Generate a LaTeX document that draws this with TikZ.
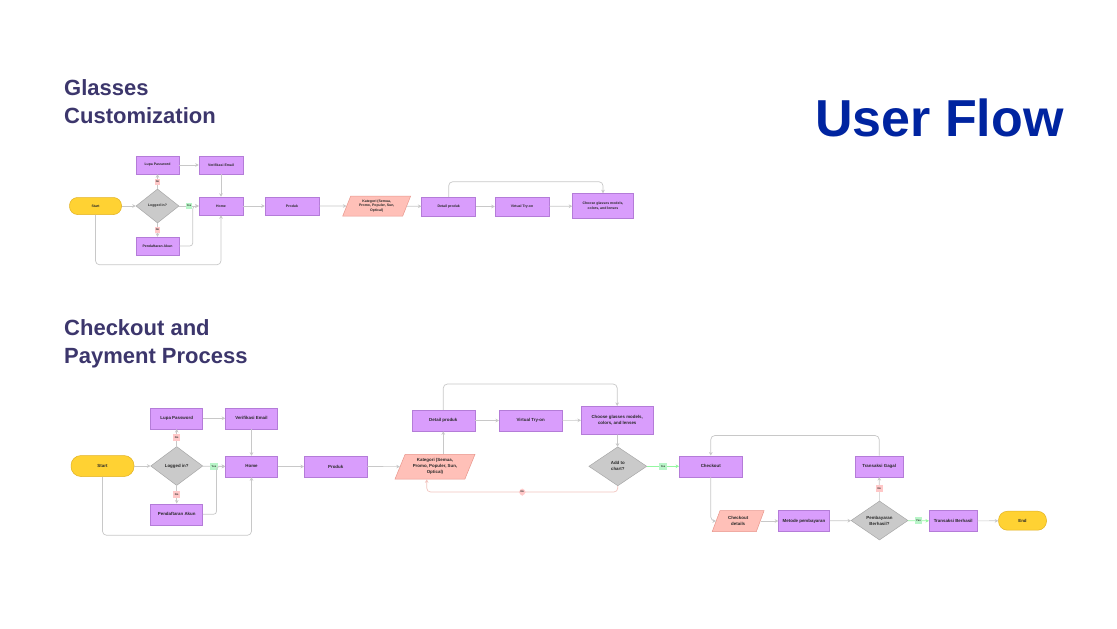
\documentclass[tikz,border=0pt]{standalone}
\usepackage{fontspec}
\setmainfont{Liberation Sans}
\usetikzlibrary{shapes.geometric,arrows.meta}

\definecolor{procfill}{RGB}{217,157,252}
\definecolor{procline}{RGB}{180,124,216}
\definecolor{termfill}{RGB}{255,210,51}
\definecolor{termline}{RGB}{226,178,34}
\definecolor{decfill}{RGB}{202,202,202}
\definecolor{decline}{RGB}{168,168,168}
\definecolor{iofill}{RGB}{255,192,184}
\definecolor{ioline}{RGB}{232,150,140}
\definecolor{linegray}{RGB}{200,200,200}
\definecolor{nofill}{RGB}{255,200,200}
\definecolor{yesfill}{RGB}{184,245,200}
\definecolor{titlecol}{RGB}{60,54,108}
\definecolor{bigtitle}{RGB}{0,36,160}
\definecolor{txt}{RGB}{40,40,40}

\tikzset{
  proc/.style={draw=procline, fill=procfill, line width=0.5pt, text=txt, align=center, inner sep=1pt},
  term/.style={draw=termline, fill=termfill, line width=0.5pt, text=txt, rounded corners=8pt, inner sep=1pt},
  dec/.style={diamond, draw=decline, fill=decfill, line width=0.5pt, text=txt, align=center, inner sep=0pt},
  io/.style={trapezium, trapezium left angle=65, trapezium right angle=115, trapezium stretches=true,
    draw=ioline, fill=iofill, line width=0.5pt, text=txt, align=center, inner sep=0pt},
  fa/.style={font=\fontsize{3.5}{4.2}\selectfont\bfseries},
  fb/.style={font=\fontsize{4.4}{6}\selectfont\bfseries},
  conn/.style={draw=linegray, line width=0.7pt, -{Stealth[length=3.5pt,width=3.6pt]}},
  noline/.style={draw=ioline!55, line width=0.7pt, -{Stealth[length=3.5pt,width=3.6pt]}},
  yesline/.style={draw=yesfill!80!green, line width=0.7pt, -{Stealth[length=3.5pt,width=3.6pt]}},
  nolbl/.style={fill=nofill, text=txt, inner sep=0.5pt, minimum width=6.5, minimum height=7, font=\fontsize{2.6}{3}\selectfont\bfseries},
  yeslbl/.style={fill=yesfill, text=txt, inner sep=0.5pt, minimum width=7.5, minimum height=7, font=\fontsize{2.6}{3}\selectfont\bfseries},
  title/.style={text=titlecol, font=\fontsize{22}{28}\selectfont\bfseries, align=left, inner sep=0pt}
}

\begin{document}
\begin{tikzpicture}[x=1pt,y=-1pt]
\useasboundingbox[fill=white] (0,0) rectangle (1117,629);

% titles
\node[title, anchor=north west] (t1) at (64,79.5) {Glasses\\Customization};
\node[title, anchor=north west] (t2) at (64,319) {Checkout and\\Payment Process};
\node[text=bigtitle, font=\fontsize{52}{60}\selectfont\bfseries, anchor=base west, inner sep=0pt] (t0) at (815,136) {User Flow};

% glasses customization
\node[term, fa, minimum width=52, minimum height=17] (s1) at (95.5,206) {Start};
\node[dec, fa, minimum width=43, minimum height=34] (l1) at (157.5,206) {Logged in?};
\node[proc, fa, minimum width=43, minimum height=18] (lp1) at (157.5,165) {Lupa Password};
\node[proc, fa, minimum width=44, minimum height=18] (v1) at (221,165) {Verifikasi Email};
\node[proc, fa, minimum width=44, minimum height=18] (h1) at (221,206) {Home};
\node[proc, fa, minimum width=43, minimum height=18] (pa1) at (157.5,246) {Pendaftaran Akun};
\node[proc, fa, minimum width=54, minimum height=18] (pr1) at (292,206) {Produk};
\node[io, fa, minimum width=68, minimum height=20] (k1) at (376.7,206) {Kategori (Semua,\\Promo, Populer, Sun,\\Optical)};
\node[proc, fa, minimum width=54, minimum height=19] (d1) at (448.7,206.5) {Detail produk};
\node[proc, fa, minimum width=54, minimum height=19] (vt1) at (522,206.5) {Virtual Try-on};
\node[proc, fa, minimum width=61, minimum height=25] (c1) at (603,206) {Choose glasses models,\\colors, and lenses};

\draw[conn] (s1) -- (l1);
\draw[conn] (l1) -- (lp1) node[midway, nolbl, minimum width=5.5, minimum height=6] {No};
\draw[conn] (l1) -- (pa1) node[midway, nolbl, minimum width=5.5, minimum height=6] {No};
\draw[conn] (l1) -- (h1) node[midway, yeslbl, minimum width=6, minimum height=6] {Yes};
\draw[conn] (lp1) -- (v1);
\draw[conn] (v1) -- (h1);
\draw[conn, rounded corners=3pt] (pa1.east) -| ([xshift=-6]h1.west) -- (h1.west);
\draw[conn, rounded corners=4pt] (s1.south) -- ++(0,50) -| (h1.south);
\draw[conn] (h1) -- (pr1);
\draw[conn] (pr1) -- (k1);
\draw[conn] (k1) -- (d1);
\draw[conn] (d1) -- (vt1);
\draw[conn] (vt1) -- (c1);
\draw[conn, rounded corners=4pt] (d1.north) -- ++(0,-15) -| (c1.north);

% checkout and payment
\node[term, fb, minimum width=63, minimum height=21, rounded corners=10pt] (s2) at (102.5,466) {Start};
\node[dec, fb, minimum width=52, minimum height=39] (l2) at (176.7,466) {Logged in?};
\node[proc, fb, minimum width=52, minimum height=21] (lp2) at (176.7,418.3) {Lupa Password};
\node[proc, fb, minimum width=52, minimum height=21] (v2) at (251.5,418.3) {Verifikasi Email};
\node[proc, fb, minimum width=52, minimum height=21] (h2) at (251.5,466.5) {Home};
\node[proc, fb, minimum width=52, minimum height=21] (pa2) at (176.7,514.3) {Pendaftaran Akun};
\node[proc, fb, minimum width=63, minimum height=21] (pr2) at (335.7,466.5) {Produk};
\node[io, fb, minimum width=80, minimum height=24.7] (k2) at (435,466.7) {Kategori (Semua,\\Promo, Populer, Sun,\\Optical)};
\node[proc, fb, minimum width=63, minimum height=21] (d2) at (443.3,420.5) {Detail produk};
\node[proc, fb, minimum width=63, minimum height=21] (vt2) at (530.7,420.5) {Virtual Try-on};
\node[proc, fb, minimum width=72, minimum height=28] (c2) at (617.2,420.2) {Choose glasses models,\\colors, and lenses};
\node[dec, fb, minimum width=58, minimum height=39] (a2) at (617.8,466.3) {Add to\\chart?};
\node[proc, fb, minimum width=63, minimum height=21] (co2) at (710.8,466.3) {Checkout};
\node[proc, fb, minimum width=48, minimum height=21] (tg2) at (879.2,466.3) {Transaksi Gagal};
\node[io, fb, minimum width=52, minimum height=21] (cd2) at (738.2,521) {Checkout\\details};
\node[proc, fb, minimum width=51, minimum height=21] (mp2) at (804,521) {Metode pembayaran};
\node[dec, fb, minimum width=57, minimum height=39] (pb2) at (879.5,520.5) {Pembayaran\\Berhasil?};
\node[proc, fb, minimum width=48, minimum height=21] (tb2) at (953.2,521) {Transaksi Berhasil};
\node[term, fb, minimum width=48, minimum height=19, rounded corners=9pt] (e2) at (1022.5,520.7) {End};

\draw[conn] (s2) -- (l2);
\draw[conn] (l2) -- (lp2) node[midway, nolbl] {No};
\draw[conn] (l2) -- (pa2) node[midway, nolbl] {No};
\draw[conn] (l2) -- (h2) node[midway, yeslbl] {Yes};
\draw[conn] (lp2) -- (v2);
\draw[conn] (v2) -- (h2);
\draw[conn, rounded corners=3pt] (pa2.east) -| ([xshift=-8.7]h2.west) -- (h2.west);
\draw[conn, rounded corners=4pt] (s2.south) -- ++(0,58.5) -| (h2.south);
\draw[conn] (h2) -- (pr2);
\draw[conn] (pr2) -- (k2);
\draw[conn] (k2.north -| d2.south) -- (d2.south);
\draw[conn] (d2) -- (vt2);
\draw[conn] (vt2) -- (c2);
\draw[conn, rounded corners=4pt] (d2.north) -- ++(0,-25.7) -| (c2.north);
\draw[conn] (c2) -- (a2);
\draw[yesline] (a2) -- (co2) node[midway, yeslbl] {Yes};
\draw[noline, rounded corners=4pt] (a2.south) -- ++(0,6) -| ([xshift=-8.3]k2.south) node[pos=0.25, nolbl] {No};
\draw[conn, rounded corners=4pt] (tg2.north) -- ++(0,-20) -| (co2.north);
\draw[conn, rounded corners=4pt] (co2.south) |- (cd2.west);
\draw[conn] (cd2) -- (mp2);
\draw[conn] (mp2) -- (pb2);
\draw[conn] (pb2) -- (tg2) node[midway, nolbl] {No};
\draw[yesline] (pb2) -- (tb2) node[midway, yeslbl] {Yes};
\draw[conn] (tb2) -- (e2);

\end{tikzpicture}
\end{document}
